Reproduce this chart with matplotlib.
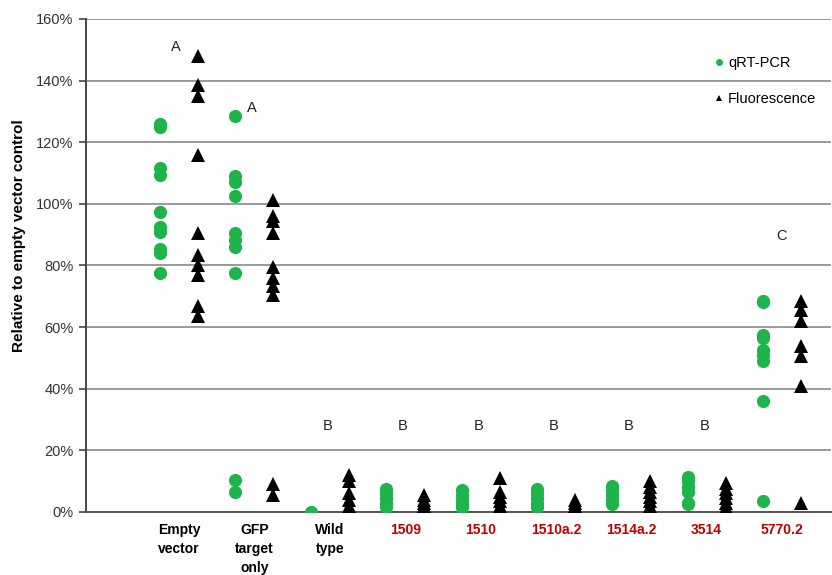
import matplotlib
matplotlib.use("Agg")
import matplotlib.pyplot as plt
from matplotlib.lines import Line2D
from matplotlib.ticker import PercentFormatter

plt.rcParams['font.family'] = ['Liberation Sans', 'DejaVu Sans']

categories = ["Empty\nvector", "GFP\ntarget\nonly", "Wild\ntype", "1509", "1510",
              "1510a.2", "1514a.2", "3514", "5770.2"]
label_colors = ["black", "black", "black", "#c00000", "#c00000", "#c00000",
                "#c00000", "#c00000", "#c00000"]

qrt_pcr = [
    [126, 125, 111.5, 109.5, 97.5, 92.5, 91, 85.5, 84, 77.5],
    [128.5, 109, 107, 102.7, 90.5, 88.3, 86.1, 77.5, 10.4, 6.5],
    [0],
    [7.5, 6, 4.5, 3, 1.5],
    [7, 5.5, 4, 2.5, 1.5],
    [7.5, 6, 4.5, 3, 1.5],
    [8.5, 7, 5.5, 4, 2.5],
    [11.5, 10, 8, 6.5, 3, 2.5],
    [68.5, 68, 57.5, 56.5, 52.5, 51, 49, 36, 3.5],
]

fluorescence = [
    [148, 138.5, 135, 116, 90.5, 83.5, 80, 77, 67, 63.5],
    [101.3, 95.9, 94.3, 90.5, 79.6, 75.9, 73.2, 70.5, 9, 5.5],
    [12, 10, 6, 4, 2],
    [5.5, 4, 3, 2, 1.5],
    [11, 6.5, 5, 3.5, 2, 1],
    [4, 3, 2, 1.5],
    [10, 8, 6.5, 5, 3.5, 2, 1],
    [9.5, 7.5, 6, 4.5, 3, 1.5],
    [68.5, 65.5, 62, 54, 50.5, 41, 3],
]

group_letters = ["A", "A", "B", "B", "B", "B", "B", "B", "C"]
letter_heights = [151, 131, 28, 28, 28, 28, 28, 28, 89.5]
letter_offsets = [-0.01, 0.0, 0.0, 0.0, 0.0, 0.0, 0.0, 0.0, 0.02]

green = "#1fb34b"
offset = 0.252

fig = plt.figure(figsize=(8.32, 5.75), dpi=100)
ax = fig.add_axes([0.1034, 0.1096, 0.895, 0.8574])

for i in range(len(categories)):
    ax.plot([i - offset] * len(qrt_pcr[i]), qrt_pcr[i], 'o', color=green,
            markersize=9.5, markeredgewidth=0, zorder=3)
    ax.plot([i + offset] * len(fluorescence[i]), fluorescence[i], '^', color='black',
            markersize=10, markeredgewidth=0, zorder=3)
    ax.text(i + letter_offsets[i] - 0.03, letter_heights[i], group_letters[i],
            ha='center', va='center', fontsize=10.5, color='#222222')

ax.set_xlim(-1.235, 8.645)
ax.set_ylim(0, 160)
ax.set_yticks(range(0, 161, 20))
ax.yaxis.set_major_formatter(PercentFormatter(decimals=0))
ax.grid(axis='y', color='#9a9a9a', linewidth=1.4)
ax.set_axisbelow(True)

ax.set_xticks(range(len(categories)))
ax.set_xticklabels(categories, fontsize=10, fontweight='bold', linespacing=1.45, va='top')
for lbl, c in zip(ax.get_xticklabels(), label_colors):
    lbl.set_color(c)
ax.tick_params(axis='x', length=0, pad=8)
ax.tick_params(axis='y', length=5, width=1.2, color='#444444', labelsize=10.5,
               labelcolor='#333333', pad=4)

for s in ['top', 'right']:
    ax.spines[s].set_visible(False)
ax.spines['left'].set_color('#444444')
ax.spines['left'].set_linewidth(1.4)
ax.spines['bottom'].set_color('#555555')
ax.spines['bottom'].set_linewidth(1.4)

ax.set_ylabel("Relative to empty vector control", fontsize=11, fontweight='bold')
ax.yaxis.set_label_coords(-0.08, 0.56)

handles = [Line2D([], [], marker='o', color=green, linestyle='none', markersize=5, markeredgewidth=0),
           Line2D([], [], marker='^', color='black', linestyle='none', markersize=5, markeredgewidth=0)]
ax.legend(handles, ["qRT-PCR", "Fluorescence"], loc='upper left', bbox_to_anchor=(0.823, 0.952),
          frameon=False, fontsize=10.5, labelspacing=1.5, handletextpad=0.1, handlelength=1.0)

fig.savefig("out.png", dpi=100)
